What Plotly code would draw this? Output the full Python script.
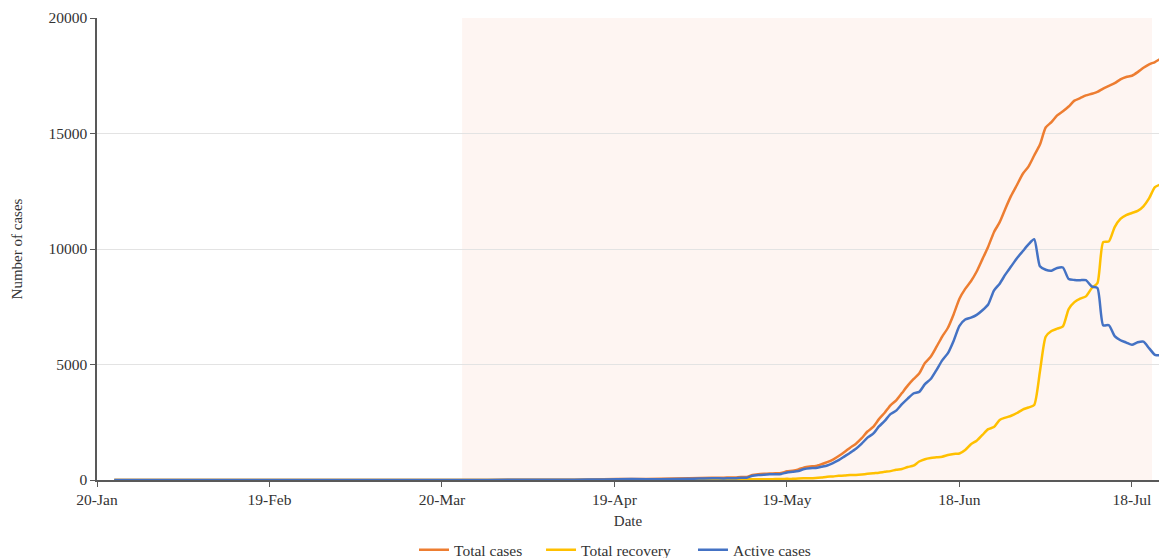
import pandas as pd
import plotly.graph_objects as go

# ---- data ----
dates_early = ["2020-01-23", "2020-02-15", "2020-03-10", "2020-03-23", "2020-03-28", "2020-04-04",
               "2020-04-12", "2020-04-17", "2020-04-22", "2020-04-27", "2020-05-02", "2020-05-06"]
dates_daily = [d.strftime("%Y-%m-%d") for d in pd.date_range("2020-05-08", "2020-07-23", freq="D")]
dates = dates_early + dates_daily

total_cases = [1, 1, 1, 2, 5, 9, 12, 30, 45, 52, 75, 99,
               # May 8 - May 31
               101, 109, 110, 134, 134, 217, 249, 267, 281, 291, 304, 375, 402, 457, 548, 584,
               603, 682, 772, 886, 1042, 1212, 1401, 1572,
               # June
               1811, 2099, 2300, 2634, 2912, 3235, 3448, 3762, 4084, 4364, 4614, 5062, 5335, 5760, 6211,
               6591, 7177, 7848, 8274, 8605, 9026, 9561, 10099, 10728, 11162, 11755, 12309, 12772, 13248, 13564,
               # July 1 - 23
               14046, 14519, 15259, 15491, 15784, 15964, 16168, 16423, 16531, 16649, 16719, 16801,
               16945, 17061, 17177, 17344, 17444, 17501, 17658, 17844, 17994, 18094, 18241]

total_recovery = [0, 1, 1, 1, 1, 1, 1, 4, 7, 16, 22, 22,
                  31, 31, 33, 33, 35, 36, 36, 36, 36, 40, 40, 49, 49, 69, 72, 72,
                  85, 110, 143, 152, 183, 191, 220, 220,
                  238, 266, 292, 316, 354, 385, 444, 480, 560, 620, 800, 900, 950, 980, 1010,
                  1080, 1125, 1150, 1300, 1550, 1700, 1950, 2200, 2290, 2600, 2700, 2780, 2900, 3050, 3140,
                  3250, 4700, 6200, 6450, 6550, 6650, 7400, 7700, 7850, 7950, 8300, 8520,
                  10300, 10330, 10950, 11300, 11470, 11560, 11650, 11850, 12200, 12680, 12800]

active_cases = [1, 0, 0, 1, 4, 8, 11, 26, 38, 36, 53, 77,
                70, 78, 77, 101, 99, 181, 213, 231, 245, 251, 264, 326, 353, 388, 476, 512,
                518, 572, 629, 734, 859, 1021, 1181, 1352,
                1573, 1833, 2008, 2318, 2558, 2850, 3004, 3282, 3524, 3744, 3814, 4150, 4370, 4760, 5180,
                5490, 6030, 6670, 6950, 7030, 7150, 7350, 7600, 8200, 8500, 8900, 9250, 9600, 9900, 10200,
                10420, 9250, 9100, 9060, 9180, 9200, 8700, 8660, 8650, 8650, 8380, 8310,
                6700, 6700, 6230, 6050, 5950, 5850, 5960, 5990, 5700, 5420, 5400]

series_names = ["Total cases", "Total recovery", "Active cases"]
series_colors = ["#ED7D31", "#FFC000", "#4472C4"]
legend_ids = ["legend", "legend2", "legend3"]
legend_x = [0.2985, 0.4181, 0.5612]

tick_dates = ["2020-01-20", "2020-02-19", "2020-03-20", "2020-04-19", "2020-05-19", "2020-06-18", "2020-07-18"]
tick_labels = ["20-Jan", "19-Feb", "20-Mar", "19-Apr", "19-May", "18-Jun", "18-Jul"]
y_ticks = [0, 5000, 10000, 15000, 20000]

lockdown_start = "2020-03-23 12:00"
lockdown_end = "2020-07-21 12:00"
x_range = ["2020-01-20", "2020-07-22 17:00"]
y_range = [0, 20000]

FONT = "Liberation Serif, Times New Roman, serif"
TXT = "#333333"

fig = go.Figure()
for name, vals, col, lg in zip(series_names, [total_cases, total_recovery, active_cases],
                               series_colors, legend_ids):
    fig.add_trace(go.Scatter(
        x=dates, y=vals, name=name, mode="lines", legend=lg,
        line=dict(color=col, width=2.5, shape="spline", smoothing=0.6),
    ))

fig.add_shape(type="rect", xref="x", yref="y",
              x0=lockdown_start, x1=lockdown_end, y0=y_range[0], y1=y_range[1],
              fillcolor="#FEF5F2", line=dict(width=0), layer="below")

legend_common = dict(orientation="h", xanchor="left", y=-0.152, yanchor="middle",
                     font=dict(family=FONT, size=15.5, color=TXT),
                     itemwidth=30, bgcolor="rgba(0,0,0,0)")
layout_legends = {lg: dict(x=lx, **legend_common) for lg, lx in zip(legend_ids, legend_x)}

fig.update_layout(
    width=1159, height=558,
    margin=dict(l=97, r=0, t=18, b=78, autoexpand=False),
    paper_bgcolor="white", plot_bgcolor="white",
    font=dict(family=FONT, size=15.5, color=TXT),
    showlegend=True,
    **layout_legends,
)

fig.update_xaxes(
    type="date", range=x_range, automargin=False,
    tickmode="array", tickvals=tick_dates, ticktext=tick_labels,
    showgrid=False, zeroline=False,
    showline=True, linecolor="#595959", linewidth=1.5,
    ticks="outside", ticklen=5, tickcolor="#595959",
    tickfont=dict(family=FONT, size=15.5, color=TXT),
    title=dict(text="Date", font=dict(family=FONT, size=15, color=TXT), standoff=8),
)

fig.update_yaxes(
    range=y_range, automargin=False,
    tickmode="array", tickvals=y_ticks, ticktext=[str(v) for v in y_ticks],
    showgrid=True, gridcolor="#E3E3E3", gridwidth=1, zeroline=False,
    showline=True, linecolor="#595959", linewidth=1.5,
    ticks="outside", ticklen=5, tickcolor="#595959",
    tickfont=dict(family=FONT, size=15.5, color=TXT),
    title=dict(text="Number of cases", font=dict(family=FONT, size=15, color=TXT), standoff=22),
)

fig.write_html("out.html",
               config={"displayModeBar": False},
               post_script="document.body.style.margin='0px'; document.body.style.overflow='hidden';")
